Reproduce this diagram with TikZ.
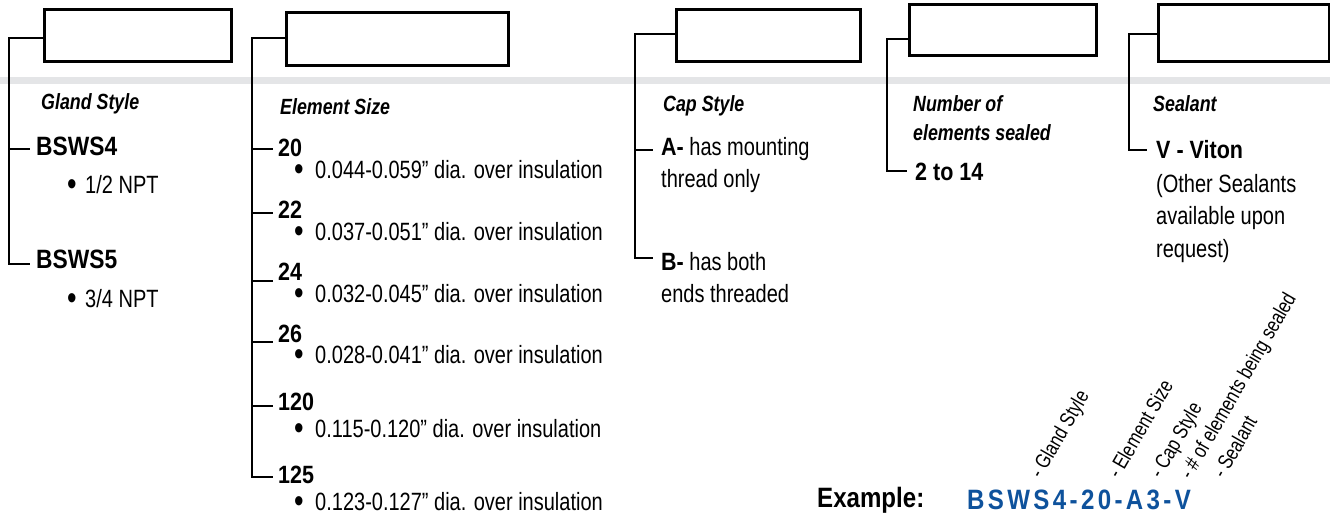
\documentclass[tikz,border=0pt]{standalone}
\usepackage{fontspec}
\setmainfont{Liberation Sans}[UprightFeatures={FakeStretch=0.80},BoldFeatures={FakeStretch=0.86},ItalicFeatures={FakeStretch=0.80},BoldItalicFeatures={FakeStretch=0.81}]
\newfontfamily\codefont{Liberation Sans}[LetterSpace=12,UprightFeatures={FakeStretch=0.86},BoldFeatures={FakeStretch=0.86}]
\definecolor{bandgray}{RGB}{228,229,231}
\definecolor{codeblue}{RGB}{14,82,156}
\begin{document}
\begin{tikzpicture}[x=1pt,y=-1pt,
  box/.style={draw,line width=2.6pt,anchor=north west,inner sep=0pt},
  br/.style={line width=2.6pt},
  txt/.style={anchor=base west,inner sep=0pt,font=\fontsize{25}{25}\selectfont},
  hd/.style={txt,font=\fontsize{22}{22}\selectfont\bfseries\itshape},
  bb/.style={txt,font=\fontsize{25}{25}\selectfont\bfseries},
  big/.style={txt,font=\fontsize{26.5}{26.5}\selectfont\bfseries},
  rot/.style={anchor=base west,inner sep=0pt,rotate=60,font=\fontsize{21}{21}\selectfont}]
\newcommand\bul{\raisebox{-2pt}{\fontsize{34}{34}\selectfont •}}
\useasboundingbox (0,0) rectangle (1330,516);
\fill[bandgray] (0,77) rectangle (1330,84);

% boxes
\node[box,minimum width=187pt,minimum height=52pt] (b1) at (43,8) {};
\node[box,minimum width=222pt,minimum height=53pt] (b2) at (285,11) {};
\node[box,minimum width=184pt,minimum height=52pt] (b3) at (675,8) {};
\node[box,minimum width=187pt,minimum height=51pt] (b4) at (908,3) {};
\node[box,minimum width=171pt,minimum height=57pt] (b5) at (1157,3) {};

% headings
\node[hd] (h1) at (41,110) {Gland Style};
\node[hd] (h2) at (280,115) {Element Size};
\node[hd] (h3) at (663,112) {Cap Style};
\node[hd] (h4) at (913,112) {Number of};
\node[hd] (h4b) at (913,140) {elements sealed};
\node[hd] (h5) at (1153,112) {Sealant};

% gland style
\node[big] (g4) at (36,156) {BSWS4};
\node[txt] (g4d) at (67,193) {\bul\hspace{8.5pt}1/2 NPT};
\node[big] (g5) at (36,268) {BSWS5};
\node[txt] (g5d) at (67,307) {\bul\hspace{8.5pt}3/4 NPT};
\coordinate (v1t) at (9,38);
\coordinate (v1a) at (30,149);
\coordinate (v1b) at (30,264);
\draw[br] (b1.west |- v1t) -- (v1t) |- (v1b);
\draw[br] (v1t |- v1a) -- (v1a);

% element size
\node[bb] (e20) at (278,157) {20};
\node[txt] (e20d) at (294,178) {\bul\hspace{11.5pt}0.044-0.059” dia. over insulation};
\node[bb] (e22) at (278,218) {22};
\node[txt] (e22d) at (294,240) {\bul\hspace{11.5pt}0.037-0.051” dia. over insulation};
\node[bb] (e24) at (278,280) {24};
\node[txt] (e24d) at (294,302) {\bul\hspace{11.5pt}0.032-0.045” dia. over insulation};
\node[bb] (e26) at (278,342) {26};
\node[txt] (e26d) at (294,363) {\bul\hspace{11.5pt}0.028-0.041” dia. over insulation};
\node[bb] (e120) at (278,410) {120};
\node[txt] (e120d) at (294,437) {\bul\hspace{11.5pt}0.115-0.120” dia. over insulation};
\node[bb] (e125) at (278,483) {125};
\node[txt] (e125d) at (294,510) {\bul\hspace{11.5pt}0.123-0.127” dia. over insulation};
\coordinate (v2t) at (252,38);
\coordinate (v2a) at (273,149);
\coordinate (v2b) at (273,213);
\coordinate (v2c) at (273,281);
\coordinate (v2d) at (273,342);
\coordinate (v2e) at (273,406);
\coordinate (v2f) at (273,477);
\draw[br] (b2.west |- v2t) -- (v2t) |- (v2f);
\foreach \c in {v2a,v2b,v2c,v2d,v2e} \draw[br] (v2t |- \c) -- (\c);

% cap style
\node[txt] (ca) at (661,155) {\textbf{A-} has mounting};
\node[txt] (ca2) at (661,187) {thread only};
\node[txt] (cb) at (661,270) {\textbf{B-} has both};
\node[txt] (cb2) at (661,302) {ends threaded};
\coordinate (v3t) at (635,34);
\coordinate (v3a) at (653,150);
\coordinate (v3b) at (653,258);
\draw[br] (b3.west |- v3t) -- (v3t) |- (v3b);
\draw[br] (v3t |- v3a) -- (v3a);

% number
\node[bb] (n1) at (915,180) {2 to 14};
\coordinate (v4t) at (887,39);
\coordinate (v4b) at (907,171);
\draw[br] (b4.west |- v4t) -- (v4t) |- (v4b);

% sealant
\node[bb] (s1) at (1156,158) {V - Viton};
\node[txt] (s2) at (1156,192) {(Other Sealants};
\node[txt] (s3) at (1156,224) {available upon};
\node[txt] (s4) at (1156,257) {request)};
\coordinate (v5t) at (1129,34);
\coordinate (v5b) at (1147,150);
\draw[br] (b5.west |- v5t) -- (v5t) |- (v5b);

% example
\node[txt,font=\fontsize{28}{28}\selectfont\bfseries] (ex) at (817,507) {Example:};
\node[txt,font=\fontsize{28}{28}\selectfont\codefont\bfseries,text=codeblue] (code) at (967,509) {BSWS4-20-A3-V};
\node[rot] (r1) at (1041,480) {- Gland Style};
\node[rot] (r2) at (1119,480) {- Element Size};
\node[rot] (r3) at (1161,480) {- Cap Style};
\node[rot] (r4) at (1191,481) {- \# of elements being sealed};
\node[rot] (r5) at (1224,480) {- Sealant};
\end{tikzpicture}
\end{document}
